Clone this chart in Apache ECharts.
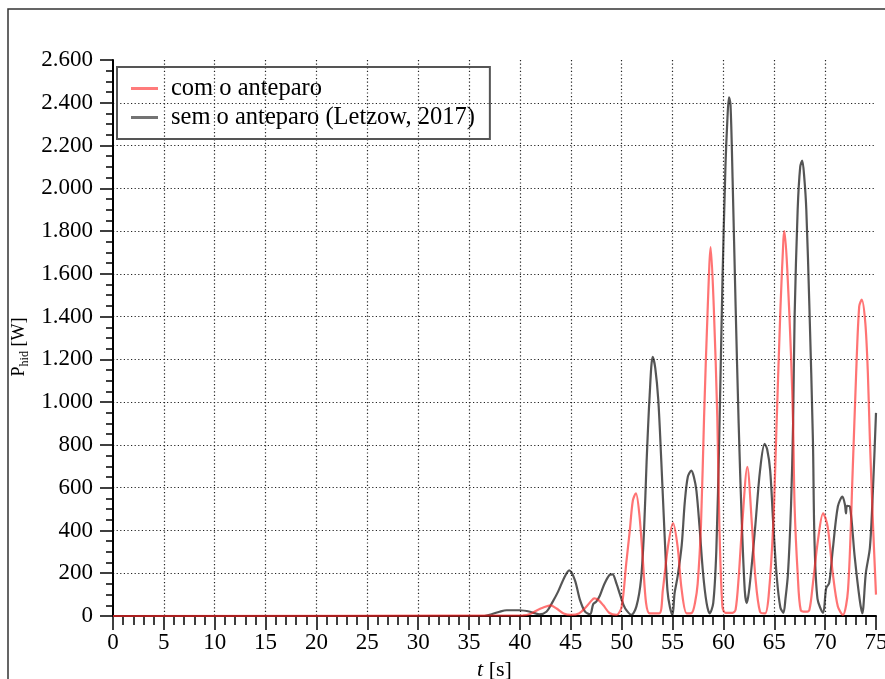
<!DOCTYPE html>
<html>
<head>
<meta charset="utf-8">
<script src="https://cdn.jsdelivr.net/npm/echarts@6/dist/echarts.min.js"></script>
<style>
html,body{margin:0;padding:0;background:#fff;}
#c{width:885px;height:679px;}
</style>
</head>
<body>
<div id="c"></div>
<script>
// ---- data ----
const xTicks = [0,5,10,15,20,25,30,35,40,45,50,55,60,65,70,75];
const yTicks = [0,200,400,600,800,1000,1200,1400,1600,1800,2000,2200,2400,2600];

const seriesNames = ['com o anteparo', 'sem o anteparo (Letzow, 2017)'];

// com o anteparo (red)
const redT = [0,40.3,41.0,41.6,42.3,43.0,43.6,44.3,45.0,45.8,46.5,47.0,47.3,47.7,48.2,48.8,49.5,50.0,50.45,50.8,51.1,51.4,51.75,52.1,52.4,52.75,53.7,54.05,54.55,55.05,55.5,55.9,56.4,56.9,57.2,57.47,57.8,58.1,58.45,58.75,59.05,59.4,59.6,59.9,60.2,60.9,61.2,61.5,61.85,62.35,62.8,63.15,63.6,64.1,64.45,64.9,65.25,65.6,65.9,66.0,66.3,66.65,66.85,67.0,67.3,67.6,68.1,68.45,68.8,69.3,69.8,70.25,70.75,71.25,71.75,72.25,72.7,73.05,73.35,73.6,73.95,74.2,74.4,74.7,75.0];
const redP = [0,3,9,25,40,50,35,12,5,12,42,70,82,75,50,14,5,44,246,400,540,574,470,250,60,12,12,122,324,434,324,122,12,15,60,150,430,930,1430,1725,1450,930,430,45,15,15,30,180,430,698,430,178,20,12,95,430,930,1430,1760,1800,1600,1214,900,512,200,28,20,28,153,356,480,418,200,44,5,122,668,1136,1448,1479,1370,1136,824,434,100];

// sem o anteparo (black)
const blackT = [0,36.5,37.2,38.0,38.7,40.0,41.0,41.9,42.6,43.2,43.75,44.4,44.85,45.4,45.9,46.4,46.9,47.2,47.5,47.85,48.3,48.8,49.1,49.5,49.8,50.2,50.5,50.95,51.45,51.9,52.2,52.45,52.75,53.05,53.3,53.6,53.9,54.2,54.5,54.75,55.0,55.2,55.5,55.9,56.2,56.5,56.85,57.1,57.35,57.65,58.0,58.35,58.65,59.0,59.3,59.6,59.9,60.2,60.4,60.55,60.7,60.9,61.2,61.5,61.8,62.1,62.3,62.5,62.8,63.15,63.6,64.05,64.3,64.6,64.9,65.25,65.6,65.9,66.1,66.35,66.65,66.85,67.0,67.3,67.55,67.75,67.95,68.15,68.45,68.8,68.95,69.25,69.8,70.1,70.4,70.75,71.25,71.7,71.95,72.05,72.15,72.45,72.9,73.4,73.65,74.0,74.4,74.7,75.0];
const blackP = [0,0,8,20,27,27,20,8,20,65,114,184,213,168,75,20,8,55,67,95,150,192,195,150,106,50,25,5,45,170,400,720,1030,1212,1160,1010,720,400,120,40,5,106,185,330,530,650,680,650,585,420,200,60,12,60,300,850,1550,2100,2330,2425,2390,2050,1450,900,450,120,60,110,245,430,680,805,780,680,430,180,40,15,80,200,520,900,1400,1900,2100,2130,2050,1900,1450,820,360,80,15,130,155,310,512,558,520,480,515,510,280,75,12,200,320,590,950];

function zip(t, p){ return t.map((v,i)=>[v,p[i]]); }

const FONT = 'Liberation Serif';
const chart = echarts.init(document.getElementById('c'), null, {renderer:'canvas'});

const gridLine = {show:true, showMinLine:false, showMaxLine:false, lineStyle:{color:'#222', width:1.2, type:[1.2,2.4]}};

chart.setOption({
  animation:false,
  backgroundColor:'#fff',
  textStyle:{fontFamily:FONT},
  graphic:[{type:'rect', shape:{x:8,y:9,width:1000,height:1000}, style:{fill:'none', stroke:'#333', lineWidth:1.5}, silent:true, z:-1}],
  grid:{left:113, right:9, top:60, bottom:63, containLabel:false, outerBoundsMode:'none'},
  legend:{
    orient:'vertical', left:117, top:67,
    padding:[9,15,9,14], itemGap:4, itemWidth:27, itemHeight:14,
    borderColor:'#555', borderWidth:2, backgroundColor:'transparent',
    icon:'path://M0,0 L27,0 L27,3 L0,3 Z',
    textStyle:{fontFamily:FONT, fontSize:24.5, color:'#000', lineHeight:25, padding:[0,0,0,8]},
    data:seriesNames
  },
  xAxis:{
    type:'value', min:xTicks[0], max:xTicks[xTicks.length-1], interval:5,
    axisLine:{show:true, onZero:false, lineStyle:{color:'#000', width:2}},
    axisTick:{show:true, length:14, lineStyle:{color:'#000', width:1.5}},
    minorTick:{show:true, splitNumber:5, length:9, lineStyle:{color:'#000', width:1.5}},
    axisLabel:{fontFamily:FONT, fontSize:23, color:'#000', margin:15},
    splitLine:gridLine,
    name:'{i|t} [s]', nameLocation:'middle', nameGap:35,
    nameTextStyle:{fontFamily:FONT, fontSize:22, color:'#000', rich:{i:{fontFamily:FONT, fontSize:22, fontStyle:'italic', color:'#000'}}}
  },
  yAxis:{
    type:'value', min:yTicks[0], max:yTicks[yTicks.length-1], interval:200,
    axisLine:{show:true, lineStyle:{color:'#000', width:2}},
    axisTick:{show:true, length:13, lineStyle:{color:'#000', width:1.5}},
    minorTick:{show:true, splitNumber:4, length:7, lineStyle:{color:'#000', width:1.5}},
    axisLabel:{fontFamily:FONT, fontSize:23, color:'#000', margin:20,
      formatter:v=>String(v).replace(/\B(?=(\d{3})+(?!\d))/g,'.')},
    splitLine:gridLine,
    name:'{p|P}{s|hid}{p| [W]}', nameLocation:'middle', nameGap:82,
    nameTextStyle:{fontFamily:FONT, color:'#000', padding:[0,18,0,0],
      rich:{p:{fontFamily:FONT, fontSize:18, color:'#000', lineHeight:22, verticalAlign:'middle'},
            s:{fontFamily:FONT, fontSize:12, color:'#000', lineHeight:12, verticalAlign:'bottom'}}}
  },
  series:[
    {name:seriesNames[0], type:'line', data:zip(redT,redP), symbol:'none', smooth:0.3,
     lineStyle:{color:'rgba(255,40,40,0.65)', width:2.2}, itemStyle:{color:'rgba(255,90,90,0.8)'}, z:3},
    {name:seriesNames[1], type:'line', data:zip(blackT,blackP), symbol:'none', smooth:0.3,
     lineStyle:{color:'rgba(20,20,20,0.72)', width:2.2}, itemStyle:{color:'rgba(90,90,90,0.85)'}, z:2}
  ]
});
</script>
</body>
</html>
